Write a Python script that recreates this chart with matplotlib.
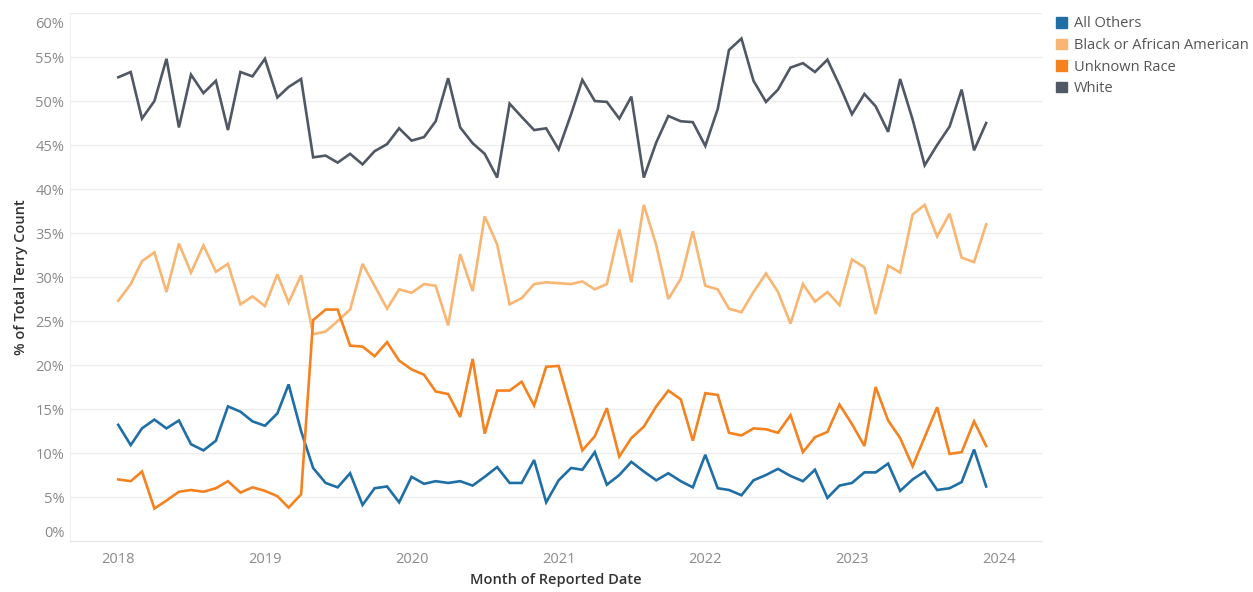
import pandas as pd
import numpy as np
import matplotlib
matplotlib.use("Agg")
import matplotlib.pyplot as plt
import matplotlib.dates as mdates
import matplotlib.transforms as mtransforms
from matplotlib.patches import Patch

plt.rcParams['font.family'] = ['Open Sans', 'DejaVu Sans']

# Monthly share of total count (%), Jan 2018 - Dec 2023
months = pd.date_range("2018-01-01", periods=72, freq="MS")

all_others = [13.2, 10.9, 12.8, 13.8, 12.8, 13.7, 11.0, 10.3, 11.4, 15.3, 14.7, 13.6, 13.1, 14.5, 17.8, 12.5,
              8.3, 6.6, 6.1, 7.7, 4.1, 6.0, 6.2, 4.4, 7.3, 6.5, 6.8, 6.6, 6.8, 6.3, 7.3, 8.4,
              6.6, 6.6, 9.2, 4.4, 6.9, 8.3, 8.1, 10.1, 6.4, 7.5, 9.0, 7.9, 6.9, 7.7, 6.8, 6.1,
              9.8, 6.0, 5.8, 5.2, 6.9, 7.5, 8.2, 7.4, 6.8, 8.1, 4.9, 6.3, 6.6, 7.8, 7.8, 8.8,
              5.7, 7.0, 7.9, 5.8, 6.0, 6.7, 10.4, 6.2]

black = [27.3, 29.2, 31.8, 32.8, 28.3, 33.8, 30.5, 33.6, 30.6, 31.5, 26.9, 27.8, 26.7, 30.3, 27.1, 30.2,
         23.5, 23.8, 25.0, 26.3, 31.5, 29.0, 26.4, 28.6, 28.2, 29.2, 29.0, 24.5, 32.6, 28.4, 36.9, 33.7,
         26.9, 27.6, 29.2, 29.4, 29.3, 29.2, 29.5, 28.6, 29.2, 35.4, 29.4, 38.2, 33.6, 27.5, 29.8, 35.2,
         29.0, 28.6, 26.4, 26.0, 28.3, 30.4, 28.3, 24.7, 29.2, 27.2, 28.3, 26.8, 32.0, 31.1, 25.8, 31.3,
         30.5, 37.1, 38.2, 34.6, 37.2, 32.2, 31.7, 36.0]

unknown = [7.0, 6.8, 7.9, 3.7, 4.6, 5.6, 5.8, 5.6, 6.0, 6.8, 5.5, 6.1, 5.7, 5.1, 3.8, 5.3,
           25.1, 26.3, 26.3, 22.2, 22.1, 21.0, 22.6, 20.5, 19.5, 18.9, 17.0, 16.7, 14.1, 20.7, 12.2, 17.1,
           17.1, 18.1, 15.4, 19.8, 19.9, 14.9, 10.3, 11.9, 15.1, 9.6, 11.7, 13.0, 15.3, 17.1, 16.1, 11.4,
           16.8, 16.6, 12.3, 12.0, 12.8, 12.7, 12.3, 14.3, 10.1, 11.8, 12.4, 15.5, 13.3, 10.8, 17.5, 13.7,
           11.7, 8.5, 11.8, 15.2, 9.9, 10.1, 13.6, 10.8]

white = [52.7, 53.3, 48.0, 50.0, 54.8, 47.0, 53.0, 50.9, 52.3, 46.7, 53.3, 52.8, 54.8, 50.4, 51.6, 52.5,
         43.6, 43.8, 43.0, 44.0, 42.8, 44.3, 45.1, 46.9, 45.5, 45.9, 47.7, 52.6, 47.0, 45.2, 44.0, 41.3,
         49.7, 48.2, 46.7, 46.9, 44.5, 48.5, 52.4, 50.0, 49.9, 48.0, 50.5, 41.3, 45.3, 48.3, 47.7, 47.6,
         44.9, 49.1, 55.8, 57.1, 52.3, 49.9, 51.3, 53.8, 54.3, 53.3, 54.7, 51.8, 48.5, 50.8, 49.4, 46.5,
         52.5, 47.9, 42.7, 45.0, 47.1, 51.3, 44.4, 47.5]

series_names = ["All Others", "Black or African American", "Unknown Race", "White"]
colors = ["#1f6ea6", "#f9b673", "#f5821f", "#4f5864"]
series = [all_others, black, unknown, white]

fig = plt.figure(figsize=(12.53, 5.92), dpi=100)
ax = fig.add_axes([0.0559, 0.0861, 0.7757, 0.8919])

for vals, c in zip(series, colors):
    ax.plot(months, vals, color=c, lw=1.9, solid_joinstyle="miter")

ax.set_ylim(0, 60)
ax.set_xlim(pd.Timestamp("2017-09-03"), pd.Timestamp("2024-04-18"))

yt = np.arange(0, 61, 5)
ax.set_yticks(yt)
ax.set_yticklabels([f"{v}%" for v in yt])
ax.xaxis.set_major_locator(mdates.YearLocator())
ax.xaxis.set_major_formatter(mdates.DateFormatter("%Y"))

ax.grid(axis="y", color="#ececec", lw=0.9)
ax.grid(axis="x", visible=False)
for s in ["top", "right"]:
    ax.spines[s].set_visible(False)
ax.spines["left"].set_color("#f0f0f0")
ax.spines["bottom"].set_color("#e6e6e6")
ax.tick_params(axis="both", length=0, labelsize=10.5, labelcolor="#8a8a8a")
ax.tick_params(axis="y", pad=4)
ax.tick_params(axis="x", pad=8)

# Tableau keeps edge labels inside the pane
labels = ax.get_yticklabels()
labels[0].set_transform(labels[0].get_transform() + mtransforms.ScaledTranslation(0, 10 / 100, fig.dpi_scale_trans))
labels[-1].set_transform(labels[-1].get_transform() + mtransforms.ScaledTranslation(0, -9 / 100, fig.dpi_scale_trans))

ax.set_ylabel("% of Total Terry Count", fontsize=10.5, color="#333333", fontweight="semibold", labelpad=5)
ax.set_xlabel("Month of Reported Date", fontsize=10.5, color="#333333", fontweight="semibold", labelpad=4)

handles = [Patch(facecolor=c, edgecolor=c) for c in colors]
leg = fig.legend(handles, series_names, loc="upper left", bbox_to_anchor=(0.838, 0.982),
                 frameon=False, fontsize=10.5, handlelength=0.75, handleheight=0.75,
                 handletextpad=0.5, labelspacing=0.45, borderaxespad=0)
for t in leg.get_texts():
    t.set_color("#555555")

fig.savefig("out.png", dpi=100)
